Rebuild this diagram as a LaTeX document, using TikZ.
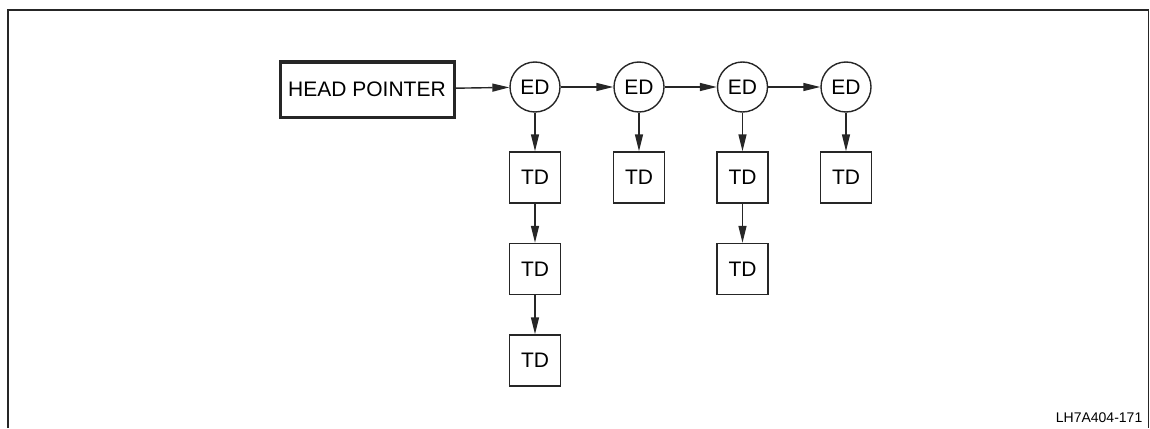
\documentclass[tikz,border=0pt]{standalone}
\usepackage{fontspec}
\setmainfont{Liberation Sans}
\usetikzlibrary{arrows.meta}

\begin{document}
\begin{tikzpicture}[x=1pt,y=-1pt,line width=1.4pt,draw=black!85,
  headbox/.style={draw,line width=3pt,minimum width=174pt,minimum height=55pt,inner sep=0pt,font=\fontsize{21}{24}\selectfont},
  ed/.style={draw,circle,minimum size=50pt,inner sep=0pt,font=\fontsize{21}{24}\selectfont},
  td/.style={draw,minimum size=51pt,inner sep=0pt,font=\fontsize{21}{24}\selectfont},
  link/.style={-{Triangle[length=17pt,width=8pt]}}]
\useasboundingbox (0,0) rectangle (1150,428);
\draw[line width=1.6pt] (8,428)--(8,10)--(1148.5,10)--(1148.5,428);
\node[headbox] (head) at (367,89.5) {HEAD POINTER};
\foreach \i/\x in {1/535,2/639,3/742.5,4/846} \node[ed] (ed\i) at (\x,87) {ED};
% TD rows under each ED
\node[td] (td11) at (535,177.5) {TD};
\node[td] (td12) at (535,269) {TD};
\node[td] (td13) at (535,360.5) {TD};
\node[td] (td21) at (639,177.5) {TD};
\node[td] (td31) at (742.5,177.5) {TD};
\node[td] (td32) at (742.5,269) {TD};
\node[td] (td41) at (846,177.5) {TD};
\draw[link] (head)--(ed1);
\foreach \a/\b in {1/2,2/3,3/4} \draw[link] (ed\a)--(ed\b);
\foreach \i in {1,...,4} \draw[link] (ed\i)--(td\i1);
\draw[link] (td11)--(td12);
\draw[link] (td12)--(td13);
\draw[link] (td31)--(td32);
\node[anchor=base east,inner sep=0pt,font=\fontsize{14}{16}\selectfont] (code) at (1143,422) {LH7A404-171};
\end{tikzpicture}
\end{document}
